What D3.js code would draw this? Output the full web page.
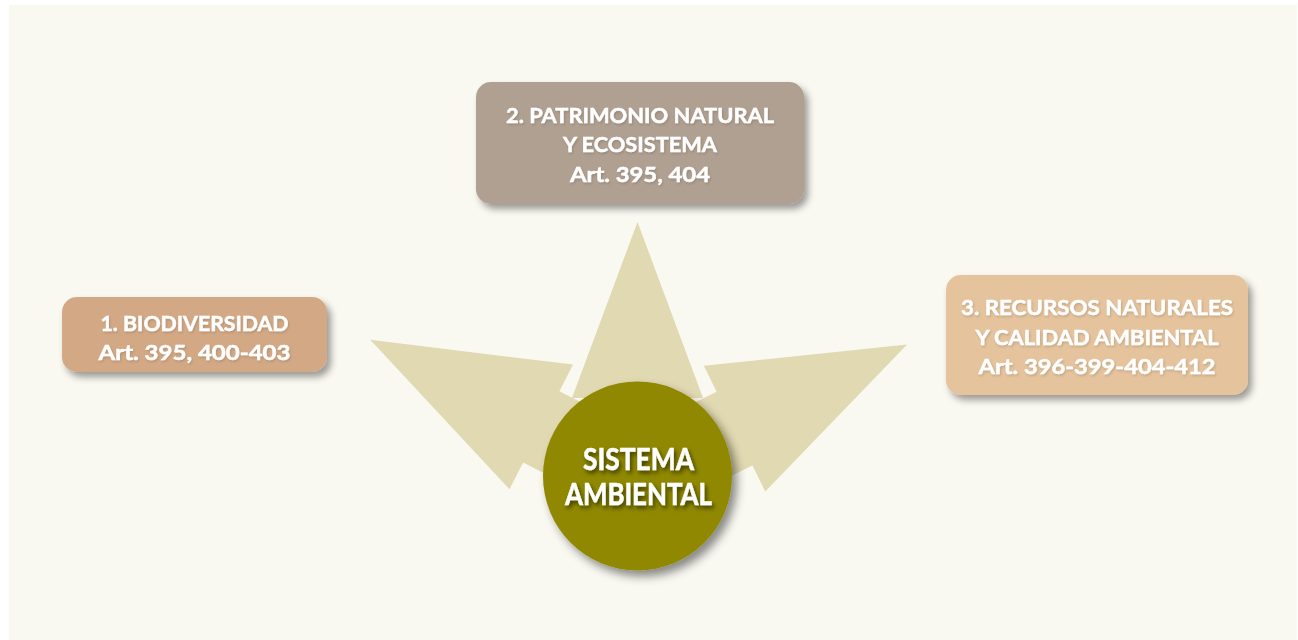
<!DOCTYPE html>
<html>
<head>
<meta charset="utf-8">
<script src="https://cdn.jsdelivr.net/npm/d3@7"></script>
<style>
  html, body { margin: 0; padding: 0; background: #ffffff; }
  svg { display: block; }
  text { font-family: Lato, "Open Sans", sans-serif; font-weight: 700; }
</style>
</head>
<body>
<script>
// ---- Data ----
const centerLines = ["SISTEMA", "AMBIENTAL"];
const categories = ["1. BIODIVERSIDAD", "2. PATRIMONIO NATURAL", "3. RECURSOS NATURALES"];
const categoryLines = [
  ["1. BIODIVERSIDAD", "Art. 395, 400-403"],
  ["2. PATRIMONIO NATURAL", "Y ECOSISTEMA", "Art. 395, 404"],
  ["3. RECURSOS NATURALES", "Y CALIDAD AMBIENTAL", "Art. 396-399-404-412"]
];
const articles = ["Art. 395, 400-403", "Art. 395, 404", "Art. 396-399-404-412"];

// ---- Layout & style (not data) ----
const W = 1298, H = 640;
const C = { x: 637.5, y: 476, r: 94.5 };
const boxColors = ["#d3a985", "#b0a091", "#e4c39d"];
const boxLayout = [
  { x: 62,  y: 297, w: 265, h: 75,  base: 331, gap: 28.5, widths: [188, 192] },
  { x: 476, y: 82,  w: 328, h: 122, base: 123, gap: 29.3, widths: [268, 154, 140] },
  { x: 946, y: 275, w: 302, h: 120, base: 315, gap: 29.5, widths: [272, 243, 237] }
];
const arrowLayout = [
  { angle: 207,  tip: 300, base: 108, head: 70,   shaft: 40 },
  { angle: -90,  tip: 254, base: 78,  head: 65.5, shaft: 40 },
  { angle: -26,  tip: 300, base: 108, head: 70,   shaft: 41 }
];

const svg = d3.select("body").append("svg").attr("width", W).attr("height", H);
const defs = svg.append("defs");

const f1 = defs.append("filter").attr("id", "boxShadow")
  .attr("x", "-20%").attr("y", "-20%").attr("width", "140%").attr("height", "150%");
f1.append("feDropShadow").attr("dx", 4).attr("dy", 5).attr("stdDeviation", 3.5)
  .attr("flood-color", "#000").attr("flood-opacity", 0.38);

const f2 = defs.append("filter").attr("id", "circShadow")
  .attr("x", "-30%").attr("y", "-30%").attr("width", "160%").attr("height", "160%");
f2.append("feDropShadow").attr("dx", 5).attr("dy", 6).attr("stdDeviation", 5)
  .attr("flood-color", "#000").attr("flood-opacity", 0.45);

const f3 = defs.append("filter").attr("id", "txtShadow")
  .attr("x", "-20%").attr("y", "-30%").attr("width", "140%").attr("height", "170%");
f3.append("feDropShadow").attr("dx", 2).attr("dy", 3).attr("stdDeviation", 2)
  .attr("flood-color", "#000").attr("flood-opacity", 0.55);

const f4 = defs.append("filter").attr("id", "txtShadowLight")
  .attr("x", "-20%").attr("y", "-30%").attr("width", "140%").attr("height", "170%");
f4.append("feDropShadow").attr("dx", 1).attr("dy", 1.5).attr("stdDeviation", 1)
  .attr("flood-color", "#000").attr("flood-opacity", 0.15);

// panel
svg.append("rect").attr("x", 9).attr("y", 5).attr("width", W - 10).attr("height", H - 5)
  .attr("fill", "#f9f8f1");

// arrows
function arrowPoints(a) {
  const t = a.angle * Math.PI / 180;
  const u = [Math.cos(t), Math.sin(t)];
  const p = [-Math.sin(t), Math.cos(t)];
  const P = (d, s) => [C.x + u[0] * d + p[0] * s, C.y + u[1] * d + p[1] * s];
  return [P(a.tip, 0), P(a.base, a.head), P(a.base, a.shaft), P(0, a.shaft),
          P(0, -a.shaft), P(a.base, -a.shaft), P(a.base, -a.head)];
}
svg.append("g").selectAll("polygon")
  .data(categories.map((c, i) => arrowLayout[i]))
  .join("polygon")
  .attr("points", d => arrowPoints(d).map(p => p.join(",")).join(" "))
  .attr("fill", "#e1d9b1");

// boxes
const boxes = svg.append("g").selectAll("g")
  .data(categories.map((c, i) => ({ name: c, lines: categoryLines[i], art: articles[i], L: boxLayout[i], color: boxColors[i] })))
  .join("g");
boxes.append("rect")
  .attr("x", d => d.L.x).attr("y", d => d.L.y)
  .attr("width", d => d.L.w).attr("height", d => d.L.h)
  .attr("rx", 15).attr("ry", 15)
  .attr("fill", d => d.color)
  .attr("filter", "url(#boxShadow)");
boxes.each(function(d) {
  const g = d3.select(this);
  d.lines.forEach((line, j) => {
    g.append("text")
      .attr("x", d.L.x + d.L.w / 2)
      .attr("y", d.L.base + j * d.L.gap)
      .attr("text-anchor", "middle")
      .attr("font-size", 21.5)
      .attr("font-weight", 900)
      .attr("fill", "#ffffff")
      .attr("stroke", "#ffffff")
      .attr("stroke-width", 0.5)
      .attr("textLength", d.L.widths[j])
      .attr("lengthAdjust", "spacingAndGlyphs")
      .attr("filter", "url(#txtShadowLight)")
      .text(line);
  });
});

// center circle
svg.append("circle").attr("cx", C.x).attr("cy", C.y).attr("r", C.r)
  .attr("fill", "#8f8800").attr("filter", "url(#circShadow)");
const centerWidths = [111, 147];
svg.append("g").selectAll("text")
  .data(centerLines)
  .join("text")
  .attr("x", C.x + 1)
  .attr("y", (d, i) => 470 + i * 35)
  .attr("text-anchor", "middle")
  .attr("font-size", 30)
  .attr("font-weight", 900)
  .attr("fill", "#ffffff")
  .attr("stroke", "#ffffff")
  .attr("stroke-width", 0.5)
  .attr("textLength", (d, i) => centerWidths[i])
  .attr("lengthAdjust", "spacingAndGlyphs")
  .attr("filter", "url(#txtShadow)")
  .text(d => d);
</script>
</body>
</html>
